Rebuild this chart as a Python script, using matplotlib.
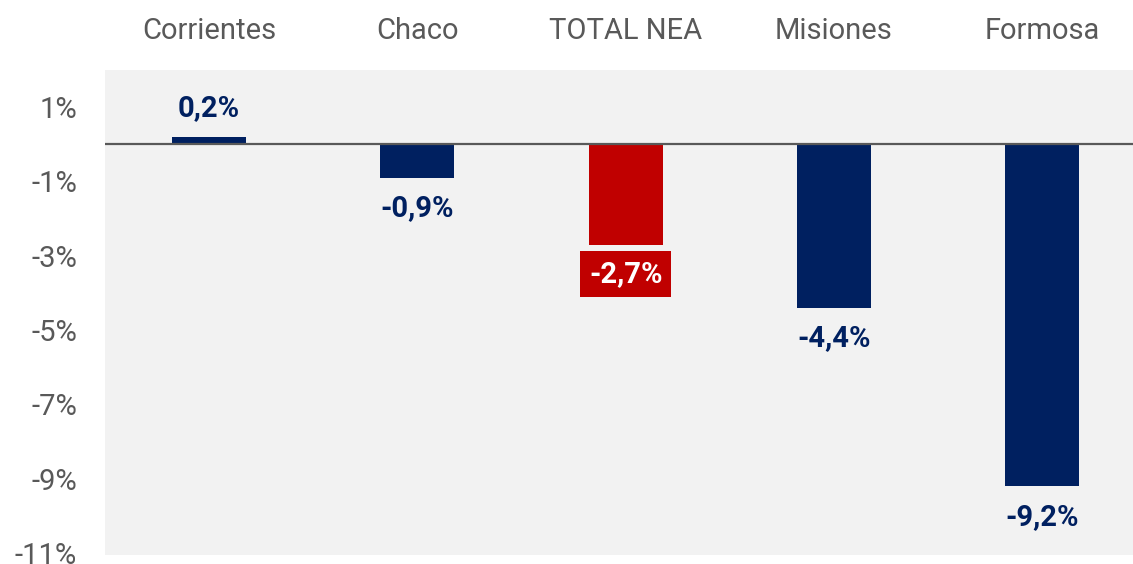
import matplotlib
matplotlib.use("Agg")
import matplotlib.pyplot as plt
from matplotlib.transforms import blended_transform_factory

plt.rcParams['font.family'] = ['Roboto', 'DejaVu Sans']

categories = ["Corrientes", "Chaco", "TOTAL NEA", "Misiones", "Formosa"]
values = [0.2, -0.9, -2.7, -4.4, -9.2]
labels = ["0,2%", "-0,9%", "-2,7%", "-4,4%", "-9,2%"]
highlight = "TOTAL NEA"
yticks = [1, -1, -3, -5, -7, -9, -11]
ytick_labels = ["1%", "-1%", "-3%", "-5%", "-7%", "-9%", "-11%"]

NAVY = "#002060"
RED = "#C00000"
GRAY = "#595959"

W, H = 1133, 564
fig = plt.figure(figsize=(W / 100, H / 100), dpi=100)
ax = fig.add_axes([105 / W, 9 / H, 1028 / W, 485 / H])
ax.set_facecolor("#F2F2F2")

x = list(range(len(categories)))
colors = [RED if c == highlight else NAVY for c in categories]
ax.bar(x, values, width=0.355, color=colors, zorder=2)
ax.axhline(0, color=GRAY, lw=1.6, zorder=3)

ax.set_xlim(-0.5, 4.436)
ax.set_ylim(-11.05, 2.0)
ax.set_yticks(yticks)
ax.set_yticklabels(ytick_labels)
ax.tick_params(axis='y', length=0, pad=20, labelsize=21, labelcolor=GRAY)
ax.set_xticks([])
for s in ax.spines.values():
    s.set_visible(False)

trans = blended_transform_factory(ax.transData, ax.transAxes)
for xi, c in zip(x, categories):
    ax.text(xi, 1 + 39 / 485, c, transform=trans, ha='center', va='center',
            fontsize=21, color=GRAY)

for xi, v, lab, c in zip(x, values, labels, categories):
    if c == highlight:
        ax.annotate(lab, (xi, v), xytext=(0, -21), textcoords='offset points',
                    ha='center', va='center', fontsize=21, fontweight='bold',
                    color='white', zorder=4,
                    bbox=dict(boxstyle='square,pad=0.3', fc=RED, ec='none'))
    else:
        off = 21 if v > 0 else -22
        ax.annotate(lab, (xi, v), xytext=(0, off), textcoords='offset points',
                    ha='center', va='center', fontsize=21, fontweight='bold',
                    color=NAVY, zorder=4)

fig.savefig("out.png", dpi=100)
